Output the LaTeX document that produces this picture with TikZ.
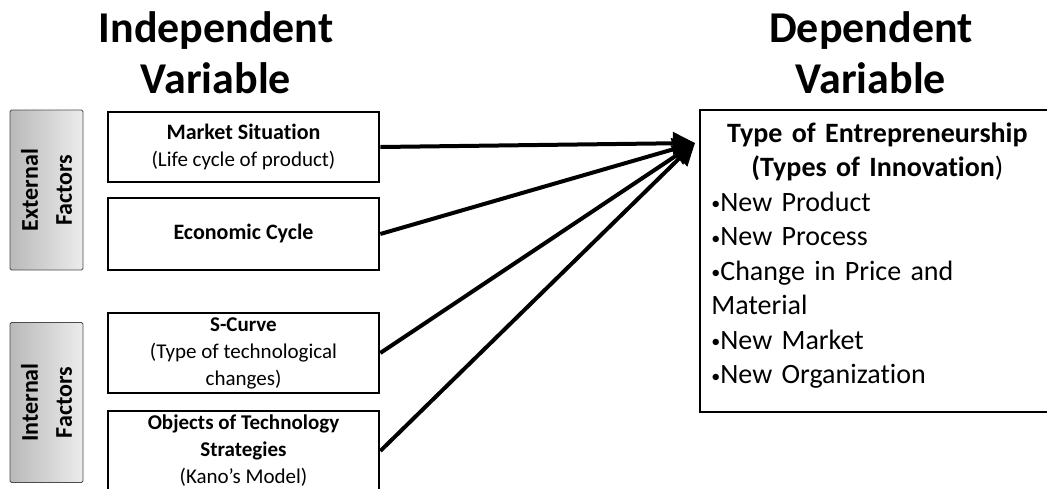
\documentclass[tikz,border=0pt]{standalone}
\usepackage{fontspec}
\setmainfont{Carlito}[Ligatures=NoCommon]
\usetikzlibrary{arrows.meta}
\newcommand{\itembul}{{\fontsize{18}{18}\selectfont\raisebox{1.5pt}{•}}}
\tikzset{
  heading/.style={align=center, font=\bfseries\fontsize{44}{51}\selectfont},
  factor/.style={draw=gray!60!black, line width=0.8pt, rounded corners=1.5pt, rotate=90,
    left color=gray!55, right color=gray!15, minimum width=160pt, minimum height=73pt,
    align=center, font=\bfseries\fontsize{24}{34}\selectfont},
  ivbox/.style={draw, line width=2.6pt, minimum width=271pt, inner ysep=1pt,
    align=center, font=\fontsize{21}{27}\selectfont},
  dvbox/.style={draw, line width=1.6pt, minimum width=360pt, minimum height=302pt},
  link/.style={line width=4pt, -{Triangle[length=22pt,width=22pt]}}
}
\begin{document}
\begin{tikzpicture}[x=1pt, y=-1pt]
  \useasboundingbox (0,0) rectangle (1047,488);
  \node[heading, anchor=base] (iv) at (216,93) {Independent\\Variable};
  \node[heading, anchor=base] (dvt) at (871,93) {Dependent\\Variable};

  \node[factor] (ext) at (46.5,190) {External\\Factors};
  \node[factor] (int) at (46.5,402.5) {Internal\\Factors};

  \node[ivbox, minimum height=70pt] (ms) at (243.5,147) {\fontsize{22}{27}\selectfont\textbf{Market Situation}\\(Life cycle of product)};
  \node[ivbox, minimum height=72pt] (ec) at (243.5,234) {\fontsize{22}{27}\selectfont\textbf{Economic Cycle}};
  \node[ivbox, minimum height=80pt] (sc) at (243.5,353) {\textbf{S-Curve}\\(Type of technological\\changes)};
  \node[ivbox, minimum height=80pt] (ots) at (243.5,451) {\textbf{Objects of Technology}\\\textbf{Strategies}\\(Kano’s Model)};

  \node[dvbox] (dv) at (880,261) {};
  \node[anchor=north west, text width=332pt, inner xsep=12pt, inner ysep=13pt,
    font=\fontsize{28}{34.5}\selectfont] (types) at (dv.north west)
    {{\centering\textbf{Type of Entrepreneurship}\\\textbf{(Types of Innovation})\par}
     \raggedright
     \itembul New Product\\\itembul New Process\\\itembul Change in Price and\\Material\\\itembul New Market\\\itembul New Organization};

  \coordinate (tip) at (695,143);
  \foreach \s in {ms,ec,sc,ots}
    \draw[link] (\s.east) -- (tip);
\end{tikzpicture}
\end{document}
